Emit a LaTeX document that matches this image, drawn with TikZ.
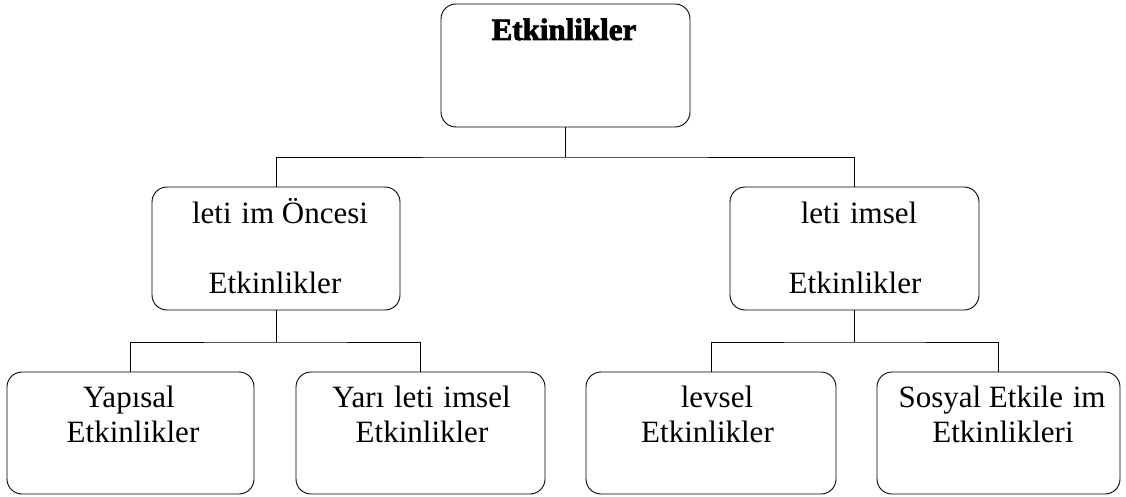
\documentclass[tikz,border=0pt]{standalone}
\usepackage{fontspec}
\setmainfont{Liberation Serif}
\newfontfamily\heavyfont{Liberation Serif Bold}[FakeBold=2.5]
\begin{document}
\begin{tikzpicture}[x=1pt,y=-1pt,
  box/.style={draw, line width=0.9pt, rounded corners=15pt, inner sep=0pt},
  lbl/.style={anchor=base, inner sep=0pt, font=\fontsize{31}{36}\selectfont},
  wire/.style={line width=0.9pt}]
\useasboundingbox (0,0) rectangle (1126,497);
% boxes
\node[box, minimum width=249pt, minimum height=123pt] (top) at (565.5,65.5) {};
\node[box, minimum width=248pt, minimum height=123pt] (ml) at (276,248.5) {};
\node[box, minimum width=249pt, minimum height=123pt] (mr) at (854.5,248.5) {};
\node[box, minimum width=247pt, minimum height=122pt] (bl) at (130.5,433) {};
\node[box, minimum width=249pt, minimum height=122pt] (b2) at (420.5,433) {};
\node[box, minimum width=250pt, minimum height=122pt] (b3) at (711,433) {};
\node[box, minimum width=243pt, minimum height=122pt] (b4) at (998.5,433) {};
% connectors
\coordinate (j1) at (565.5,157);
\draw[wire] (top.south) -- (j1);
\draw[wire] (ml.north) |- (j1) -| (mr.north);
\coordinate (j2) at (276,342);
\draw[wire] (ml.south) -- (j2);
\draw[wire] (bl.north) |- (j2) -| (b2.north);
\coordinate (j3) at (854.5,342);
\draw[wire] (mr.south) -- (j3);
\draw[wire] (b3.north) |- (j3) -| (b4.north);
% texts
\node[lbl, font=\fontsize{31}{36}\heavyfont] (t0) at (564,40) {Etkinlikler};
\node[lbl] (ml1) at (280,223) {leti\hspace{2pt} im Öncesi};
\node[lbl] (ml2) at (275,293) {Etkinlikler};
\node[lbl] (mr1) at (859,223) {leti\hspace{2pt} imsel};
\node[lbl] (mr2) at (855,293) {Etkinlikler};
\node[lbl] (bl1) at (129,407) {Yapısal};
\node[lbl] (bl2) at (133,442) {Etkinlikler};
\node[lbl] (b21) at (421.5,407) {Yarı\hspace{2pt} leti\hspace{2pt} imsel};
\node[lbl] (b22) at (422,442) {Etkinlikler};
\node[lbl] (b31) at (717,407) {levsel};
\node[lbl] (b32) at (707.5,442) {Etkinlikler};
\node[lbl] (b41) at (1002,407) {Sosyal Etkile\hspace{2pt} im};
\node[lbl] (b42) at (1003,442) {Etkinlikleri};
\end{tikzpicture}
\end{document}
